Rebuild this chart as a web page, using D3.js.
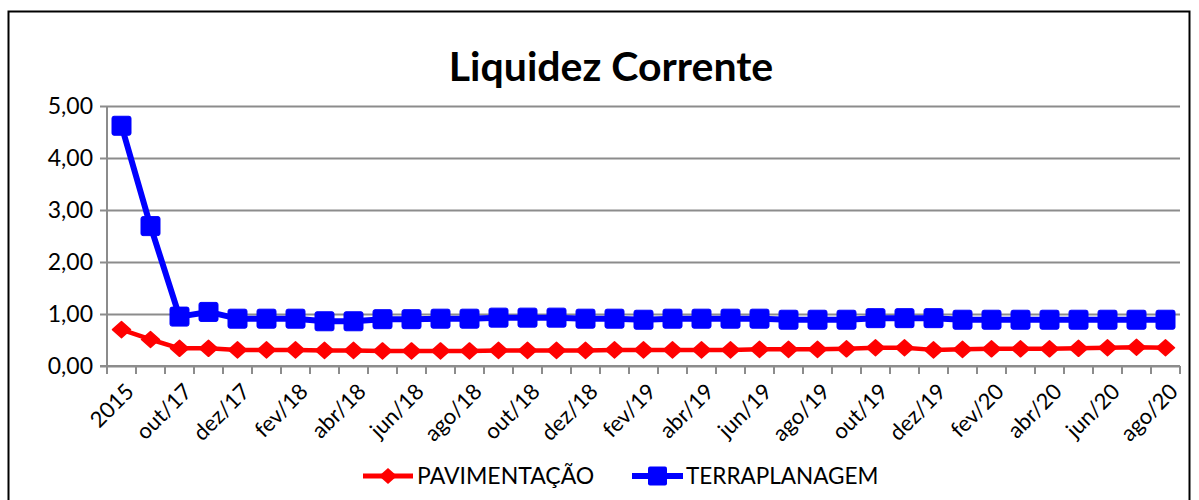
<!DOCTYPE html>
<html>
<head>
<meta charset="utf-8">
<script src="https://cdn.jsdelivr.net/npm/d3@7"></script>
<style>
  body { margin: 0; background: #fff; }
  text { font-family: Lato, "Open Sans", sans-serif; fill: #000; }
</style>
</head>
<body>
<div id="chart"></div>
<script>
const svgWidth = 1199;
const svgHeight = 500;

// categories (every other one gets a label, like Excel does)
const categories = ["2015", "2016", "out/17", "nov/17", "dez/17",
  "jan/18", "fev/18", "mar/18", "abr/18", "mai/18", "jun/18", "jul/18", "ago/18", "set/18", "out/18", "nov/18", "dez/18",
  "jan/19", "fev/19", "mar/19", "abr/19", "mai/19", "jun/19", "jul/19", "ago/19", "set/19", "out/19", "nov/19", "dez/19",
  "jan/20", "fev/20", "mar/20", "abr/20", "mai/20", "jun/20", "jul/20", "ago/20"];

const pavimentacao = [0.70, 0.51, 0.34, 0.34, 0.31, 0.31, 0.31, 0.30, 0.30, 0.29, 0.29, 0.29, 0.29,
  0.30, 0.30, 0.30, 0.30, 0.31, 0.31, 0.31, 0.31, 0.31, 0.32, 0.32, 0.32, 0.33, 0.35, 0.35, 0.31,
  0.32, 0.33, 0.33, 0.33, 0.34, 0.35, 0.36, 0.35];

const terraplanagem = [4.62, 2.69, 0.95, 1.04, 0.91, 0.91, 0.91, 0.86, 0.86, 0.90, 0.90, 0.91, 0.91,
  0.93, 0.93, 0.93, 0.91, 0.91, 0.89, 0.91, 0.91, 0.91, 0.91, 0.89, 0.89, 0.89, 0.92, 0.92, 0.92,
  0.89, 0.89, 0.89, 0.89, 0.89, 0.89, 0.89, 0.89];

const yTicks = [0, 1, 2, 3, 4, 5];

const margin = { top: 106, right: 19, bottom: 134, left: 107 };
const width = svgWidth - margin.left - margin.right;
const height = svgHeight - margin.top - margin.bottom;

const svg = d3.select("#chart")
  .append("svg")
  .attr("width", svgWidth)
  .attr("height", svgHeight);

// outer frame (bottom edge is cut off in the picture)
svg.append("rect")
  .attr("x", 8.5).attr("y", 11.5)
  .attr("width", 1181).attr("height", 520)
  .attr("fill", "none")
  .attr("stroke", "#000")
  .attr("stroke-width", 2);

svg.append("text")
  .attr("x", 611)
  .attr("y", 81)
  .attr("text-anchor", "middle")
  .attr("font-size", "41px")
  .attr("font-weight", "700")
  .text("Liquidez Corrente");

const chartGroup = svg.append("g")
  .attr("transform", `translate(${margin.left}, ${margin.top})`);

const x = d3.scaleBand()
  .domain(categories)
  .range([0, width]);

const y = d3.scaleLinear()
  .domain([0, 5])
  .range([height, 0]);

const fmt = d => d3.format(".2f")(d).replace(".", ",");

// gridlines + y labels
const leftAxis = d3.axisLeft(y)
  .tickValues(yTicks)
  .tickSize(-width)
  .tickPadding(14)
  .tickFormat(fmt);

const yAxis = chartGroup.append("g").call(leftAxis);
yAxis.select(".domain").remove();
yAxis.selectAll(".tick line")
  .attr("x1", -7)
  .attr("stroke", "#8c8c8c")
  .attr("stroke-width", 2);
yAxis.selectAll(".tick text")
  .attr("font-size", "23px")
  .attr("font-family", "Lato, 'Open Sans', sans-serif");

// y axis line
chartGroup.append("line")
  .attr("x1", 0).attr("x2", 0)
  .attr("y1", 0).attr("y2", height)
  .attr("stroke", "#8c8c8c")
  .attr("stroke-width", 2);

// x axis line with ticks between categories
const xAxisG = chartGroup.append("g")
  .attr("transform", `translate(0, ${height})`);

xAxisG.append("line")
  .attr("x1", -7).attr("x2", width)
  .attr("stroke", "#8c8c8c")
  .attr("stroke-width", 2);

xAxisG.selectAll("line.tk")
  .data(d3.range(categories.length + 1))
  .join("line")
  .attr("class", "tk")
  .attr("x1", i => i * x.step())
  .attr("x2", i => i * x.step())
  .attr("y1", 0).attr("y2", 8)
  .attr("stroke", "#8c8c8c")
  .attr("stroke-width", 2);

xAxisG.selectAll("text")
  .data(categories.filter((d, i) => i % 2 === 0))
  .join("text")
  .attr("transform", d => `translate(${x(d) + x.bandwidth() / 2 + 3}, 16) rotate(-45)`)
  .attr("text-anchor", "end")
  .attr("dy", "0.7em")
  .attr("font-size", "22px")
  .text(d => d);

const cx = (d, i) => x(categories[i]) + x.bandwidth() / 2;

const line = d3.line()
  .x(cx)
  .y(d => y(d));

// PAVIMENTAÇÃO
chartGroup.append("path")
  .datum(pavimentacao)
  .attr("d", line)
  .attr("fill", "none")
  .attr("stroke", "#ff0000")
  .attr("stroke-width", 4.5)
  .attr("stroke-linejoin", "round");

chartGroup.selectAll("path.diamond")
  .data(pavimentacao)
  .join("path")
  .attr("class", "diamond")
  .attr("transform", (d, i) => `translate(${cx(d, i)}, ${y(d)})`)
  .attr("d", "M0,-8L9,0L0,8L-9,0Z")
  .attr("fill", "#ff0000")
  .attr("stroke", "#ff0000")
  .attr("stroke-width", 1.5)
  .attr("stroke-linejoin", "round");

// TERRAPLANAGEM
chartGroup.append("path")
  .datum(terraplanagem)
  .attr("d", line)
  .attr("fill", "none")
  .attr("stroke", "#0000ff")
  .attr("stroke-width", 6)
  .attr("stroke-linejoin", "round");

chartGroup.selectAll("rect.sq")
  .data(terraplanagem)
  .join("rect")
  .attr("class", "sq")
  .attr("x", (d, i) => cx(d, i) - 9.5)
  .attr("y", d => y(d) - 9.5)
  .attr("width", 19)
  .attr("height", 19)
  .attr("rx", 2)
  .attr("fill", "#0000ff")
  .attr("stroke", "#0000ff")
  .attr("stroke-width", 1);

// legend
const legend = svg.append("g").attr("transform", "translate(0, 476)");

legend.append("line")
  .attr("x1", 363).attr("x2", 413)
  .attr("stroke", "#ff0000").attr("stroke-width", 5);
legend.append("path")
  .attr("transform", "translate(388, 0)")
  .attr("d", "M0,-8L9,0L0,8L-9,0Z")
  .attr("fill", "#ff0000");
legend.append("text")
  .attr("x", 417).attr("y", 0)
  .attr("dy", "0.35em")
  .attr("font-size", "23px")
  .text("PAVIMENTAÇÃO");

legend.append("line")
  .attr("x1", 632).attr("x2", 683)
  .attr("stroke", "#0000ff").attr("stroke-width", 6);
legend.append("rect")
  .attr("x", 648).attr("y", -9.5)
  .attr("width", 19).attr("height", 19)
  .attr("rx", 2)
  .attr("fill", "#0000ff");
legend.append("text")
  .attr("x", 686).attr("y", 0)
  .attr("dy", "0.35em")
  .attr("font-size", "22.5px")
  .text("TERRAPLANAGEM");
</script>
</body>
</html>
